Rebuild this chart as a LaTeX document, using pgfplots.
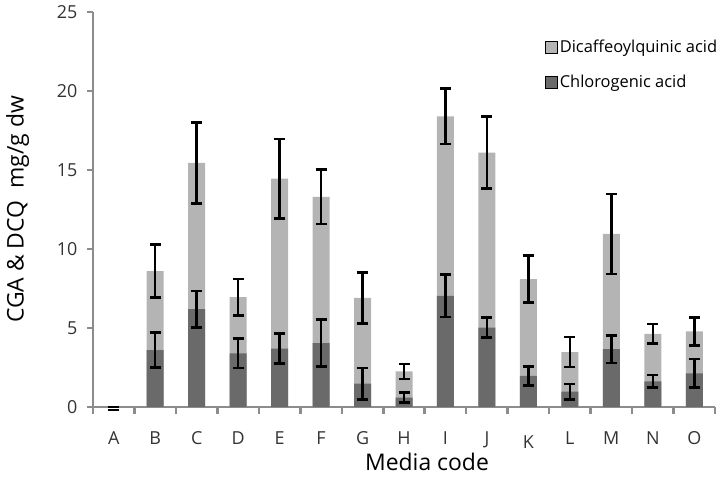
\documentclass[border=0pt]{standalone}
\usepackage{fontspec}
\setmainfont{Open Sans}
\usepackage{pgfplots}
\pgfplotsset{compat=1.18}
\usepackage{pgfplotstable}
\definecolor{dcq}{HTML}{B4B4B4}
\definecolor{cga}{HTML}{6A6A6A}
\definecolor{axisgray}{HTML}{8C8C8C}

% media A..O at x = 1..15; tot = CGA + DCQ (top of stacked bar)
\pgfplotstableread{
x  cga  cgae  cgaerr tot   toterr
1  0.00 -0.20 0.00   0.00  0.00
2  3.60 3.60  1.10   8.60  1.68
3  6.20 6.20  1.15   15.45 2.57
4  3.40 3.40  0.92   6.95  1.15
5  3.70 3.70  0.94   14.45 2.51
6  4.05 4.05  1.49   13.30 1.72
7  1.48 1.48  1.00   6.90  1.63
8  0.60 0.60  0.32   2.25  0.48
9  7.03 7.03  1.34   18.40 1.76
10 5.03 5.03  0.65   16.10 2.27
11 1.97 1.97  0.60   8.10  1.48
12 0.97 0.97  0.49   3.47  0.95
13 3.66 3.66  0.88   10.95 2.53
14 1.62 1.62  0.40   4.63  0.63
15 2.13 2.13  0.91   4.78  0.87
}\media

\pgfplotsset{
    sq legend/.style={legend image code/.code={\fill[##1] (0bp,-6bp) rectangle (12bp,6bp);}},
    errbars/.style={draw=none, mark=none, forget plot,
        error bars/.cd, y dir=both, y explicit,
        error bar style={draw=black, line width=2.6bp},
        error mark options={rotate=90, mark size=5.5bp, draw=black, line width=2.6bp}},
}

\begin{document}
\begin{tikzpicture}
\useasboundingbox (-93bp,-79bp) rectangle (632bp,407bp);
\begin{axis}[
    at={(0,0)}, anchor=south west,
    scale only axis,
    width=622bp, height=395bp,
    xmin=0.5, xmax=15.5,
    ymin=0, ymax=25,
    clip=false,
    axis x line*=bottom,
    axis y line*=left,
    axis line style={axisgray, line width=2.5bp},
    tick style={axisgray, line width=2.5bp},
    tick align=outside,
    major tick length=6bp,
    minor tick length=7bp,
    xtick={1,...,15},
    xticklabels={A,B,C,D,E,F,G,H,I,J,\raisebox{-4bp}{K},L,M,N,O},
    major x tick style={draw=none},
    minor xtick={0.5,1.5,...,15.5},
    ytick={0,5,...,25},
    /pgf/number format/assume math mode=true,
    tick label style={font=\fontsize{18}{21}\selectfont, text=black!80},
    x tick label style={anchor=base, yshift=-31bp},
    y tick label style={anchor=east, xshift=-6bp},
    xlabel={Media code},
    ylabel={CGA \& DCQ\ \ mg/g dw},
    xlabel style={at={(axis description cs:0.537,-0.139)}, anchor=center, font=\fontsize{23}{27}\selectfont},
    ylabel style={at={(axis description cs:-0.121,0.5)}, anchor=center, font=\fontsize{23}{27}\selectfont},
    legend style={at={(axis description cs:0.727,0.934)}, anchor=north west,
        draw=none, fill=none, inner sep=0pt, row sep=17bp,
        font=\fontsize{16.5}{19}\selectfont},
    legend cell align=left,
]
\addplot[ybar, bar width=17bp, bar shift=0pt, fill=dcq, draw=none, forget plot]
    table[x=x, y=tot] {\media};
\addplot[ybar, bar width=17bp, bar shift=0pt, fill=cga, draw=none, forget plot]
    table[x=x, y=cga] {\media};
% error bars after the bars so they stay on top
\addplot[errbars] table[x=x, y=cgae, y error=cgaerr] {\media};
\addplot[errbars] table[x=x, y=tot, y error=toterr] {\media};
\addlegendimage{sq legend, fill=dcq}
\addlegendentry{Dicaffeoylquinic acid}
\addlegendimage{sq legend, fill=cga}
\addlegendentry{Chlorogenic acid}
\end{axis}
\end{tikzpicture}
\end{document}
